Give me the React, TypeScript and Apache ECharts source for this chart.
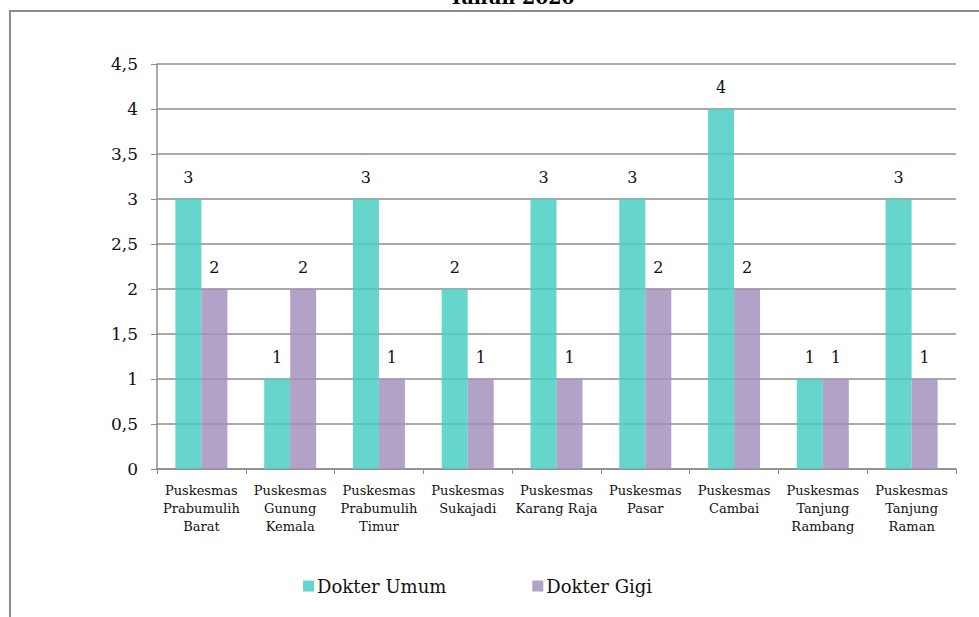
import React, { useEffect, useRef } from "react";
import * as echarts from "echarts";

// Jumlah dokter per puskesmas
const categories = [
  "Puskesmas\nPrabumulih\nBarat",
  "Puskesmas\nGunung\nKemala",
  "Puskesmas\nPrabumulih\nTimur",
  "Puskesmas\nSukajadi",
  "Puskesmas\nKarang Raja",
  "Puskesmas\nPasar",
  "Puskesmas\nCambai",
  "Puskesmas\nTanjung\nRambang",
  "Puskesmas\nTanjung\nRaman",
];
const dokterUmum = [3, 1, 3, 2, 3, 3, 4, 1, 3];
const dokterGigi = [2, 2, 1, 1, 1, 2, 2, 1, 1];
const seriesNames = ["Dokter Umum", "Dokter Gigi"];
const titleText = "Tahun 2020";

const FONT = "'DejaVu Serif', 'Liberation Serif', serif";
const GRAY = "#8c8c8c";

export default function App() {
  const ref = useRef<HTMLDivElement>(null);

  useEffect(() => {
    document.body.style.margin = "0";
    const chart = echarts.init(ref.current!, null, { renderer: "svg" });

    const label = {
      show: true,
      position: "top" as const,
      distance: 14,
      color: "#111",
      fontFamily: FONT,
      fontSize: 16,
    };

    chart.setOption({
      animation: false,
      backgroundColor: "#fff",
      textStyle: { fontFamily: FONT },
      graphic: [
        {
          type: "rect",
          shape: { x: 10, y: 11, width: 1000, height: 700 },
          style: { fill: "none", stroke: GRAY, lineWidth: 2 },
          silent: true,
          z: -1,
        },
        {
          type: "text",
          x: 512,
          y: 6,
          style: {
            text: titleText,
            fontFamily: FONT,
            fontWeight: "bold",
            fontSize: 19,
            fill: "#000",
            textAlign: "center",
            textVerticalAlign: "bottom",
          },
        },
      ],
      legend: {
        data: seriesNames,
        left: 298,
        top: 572,
        icon: "rect",
        itemWidth: 11,
        itemHeight: 11,
        itemGap: 86,
        textStyle: { fontFamily: FONT, fontSize: 18, color: "#111", padding: [0, 0, 0, -2] },
      },
      grid: { left: 157, right: 23, top: 64, bottom: 148 },
      xAxis: {
        type: "category",
        data: categories,
        axisLine: { lineStyle: { color: GRAY, width: 1.5 } },
        axisTick: { show: true, length: 5, lineStyle: { color: GRAY } },
        axisLabel: {
          interval: 0,
          margin: 12,
          fontFamily: FONT,
          fontSize: 13,
          lineHeight: 18,
          color: "#111",
        },
      },
      yAxis: {
        type: "value",
        min: 0,
        max: 4.5,
        interval: 0.5,
        axisLine: { show: true, lineStyle: { color: GRAY, width: 1.5 } },
        axisTick: { show: true, length: 6, lineStyle: { color: GRAY } },
        splitLine: { lineStyle: { color: GRAY, width: 1.5 } },
        axisLabel: {
          margin: 19,
          fontFamily: FONT,
          fontSize: 17,
          color: "#111",
          formatter: (v: number) => String(v).replace(".", ","),
        },
      },
      series: [
        {
          name: seriesNames[0],
          type: "bar",
          data: dokterUmum,
          barWidth: 26,
          barGap: "0%",
          itemStyle: { color: "rgba(75,207,195,0.85)" },
          label,
        },
        {
          name: seriesNames[1],
          type: "bar",
          data: dokterGigi,
          barWidth: 26,
          barGap: "0%",
          itemStyle: { color: "rgba(164,146,190,0.85)" },
          label,
        },
      ],
    });

    return () => chart.dispose();
  }, []);

  return <div ref={ref} style={{ width: 979, height: 617 }} />;
}
